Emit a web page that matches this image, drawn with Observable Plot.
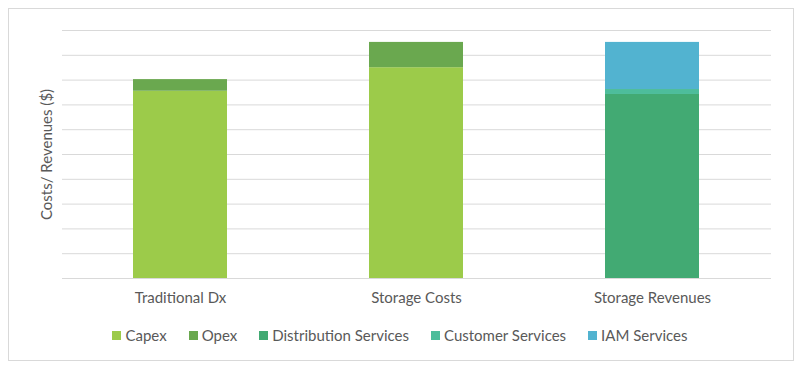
<!DOCTYPE html>
<html>
<head>
<meta charset="utf-8">
<script src="https://cdn.jsdelivr.net/npm/d3@7"></script>
<script src="https://cdn.jsdelivr.net/npm/@observablehq/plot@0.6"></script>
<style>
  html, body { margin: 0; padding: 0; background: #fff; }
  #wrap { position: relative; width: 800px; height: 368px; font-family: Lato, "Open Sans", sans-serif; color: #595959; }
  #frame { position: absolute; left: 8px; top: 8px; width: 786px; height: 353px; border: 1px solid #d9d9d9; box-sizing: border-box; }
  #chart { position: absolute; left: 0; top: 0; }
  #legend { position: absolute; left: 0; width: 800px; top: 326px; display: flex; justify-content: center; gap: 22px; font-size: 15px; }
  #legend .item { display: flex; align-items: center; gap: 4px; }
  #legend .sw { width: 9px; height: 9px; display: inline-block; }
</style>
</head>
<body>
<div id="wrap">
  <div id="frame"></div>
  <div id="chart"></div>
  <div id="legend"></div>
</div>
<script>
const categories = ["Traditional Dx", "Storage Costs", "Storage Revenues"];
const seriesNames = ["Capex", "Opex", "Distribution Services", "Customer Services", "IAM Services"];
const seriesColors = ["#9ccb4a", "#6aa84f", "#42aa73", "#4dbd9b", "#52b3d0"];
const capex = [7.55, 8.5, 0];
const opex = [0.47, 1.02, 0];
const distribution = [0, 0, 7.42];
const customer = [0, 0, 0.2];
const iam = [0, 0, 1.9];
const gridValues = [0, 1, 2, 3, 4, 5, 6, 7, 8, 9, 10];
const yLabel = "Costs/ Revenues ($)";

const seriesValues = [capex, opex, distribution, customer, iam];
const rows = [];
seriesNames.forEach((s, i) => {
  categories.forEach((c, j) => {
    const v = seriesValues[i][j];
    if (v > 0) rows.push({category: c, series: s, value: v});
  });
});

const plot = Plot.plot({
  width: 800,
  height: 312,
  marginLeft: 62,
  marginRight: 29,
  marginTop: 30,
  marginBottom: 34,
  style: {fontFamily: "Lato, 'Open Sans', sans-serif", fontSize: "15px", color: "#595959", background: "transparent"},
  x: {domain: categories, paddingInner: 0.6, paddingOuter: 0.3, label: null},
  y: {domain: [0, 10], label: null},
  color: {domain: seriesNames, range: seriesColors},
  marks: [
    Plot.ruleY(gridValues, {stroke: "#d9d9d9", strokeWidth: 1}),
    Plot.barY(rows, {x: "category", y: "value", fill: "series", order: seriesNames}),
    Plot.axisX({tickSize: 0, tickPadding: 14, fill: "#595959", fontSize: 15}),
    Plot.axisY({ticks: [], label: null}),
    Plot.text([yLabel], {frameAnchor: "left", textAnchor: "middle", rotate: -90, dx: -15, fill: "#595959", fontSize: 15})
  ]
});
document.getElementById("chart").appendChild(plot);

const legend = document.getElementById("legend");
seriesNames.forEach((s, i) => {
  const item = document.createElement("div");
  item.className = "item";
  const sw = document.createElement("span");
  sw.className = "sw";
  sw.style.background = seriesColors[i];
  const t = document.createElement("span");
  t.textContent = s;
  item.appendChild(sw);
  item.appendChild(t);
  legend.appendChild(item);
});
</script>
</body>
</html>
